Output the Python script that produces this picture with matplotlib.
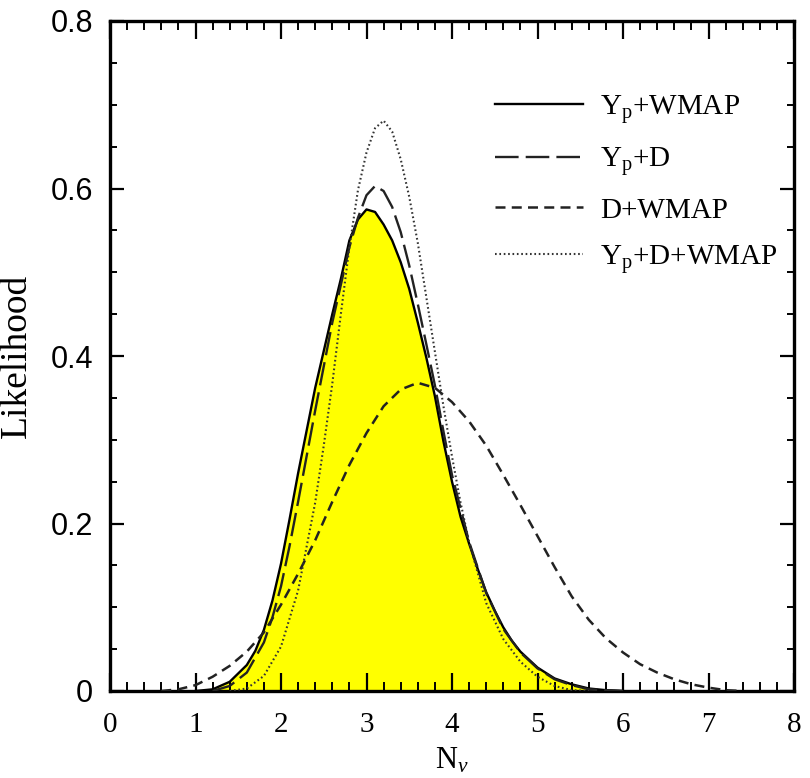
import matplotlib
matplotlib.use("Agg")
import matplotlib.pyplot as plt
from matplotlib.ticker import MultipleLocator

plt.rcParams['font.family'] = ['Liberation Serif', 'DejaVu Serif']
plt.rcParams['mathtext.fontset'] = 'custom'
plt.rcParams['mathtext.rm'] = 'Liberation Serif'
plt.rcParams['mathtext.it'] = 'Liberation Serif:italic'

# ---- data ----
x_yp_wmap = [1.0, 1.2, 1.4, 1.6, 1.7, 1.8, 1.9, 2.0, 2.1, 2.2, 2.4, 2.6, 2.7, 2.8, 2.9, 3.0,
             3.1, 3.2, 3.3, 3.4, 3.5, 3.6, 3.7, 3.8, 3.9, 4.0, 4.1, 4.2, 4.3, 4.4, 4.5,
             4.6, 4.7, 4.8, 5.0, 5.2, 5.4, 5.6, 5.8, 6.0]
y_yp_wmap = [0.0, 0.002, 0.011, 0.031, 0.048, 0.073, 0.108, 0.152, 0.205, 0.260, 0.362, 0.450,
             0.492, 0.538, 0.563, 0.575, 0.572, 0.557, 0.538, 0.512, 0.480, 0.440, 0.398,
             0.352, 0.298, 0.250, 0.208, 0.176, 0.146, 0.118, 0.096, 0.076, 0.060, 0.047,
             0.028, 0.015, 0.008, 0.003, 0.001, 0.0]

x_yp_d = [1.2, 1.4, 1.6, 1.8, 1.9, 2.0, 2.1, 2.2, 2.4, 2.6, 2.8, 2.9, 3.0, 3.1, 3.2, 3.3, 3.4,
          3.5, 3.6, 3.7, 3.8, 3.9, 4.0, 4.2, 4.4, 4.6, 4.8, 5.0, 5.2, 5.4, 5.6, 6.0]
y_yp_d = [0.0, 0.006, 0.022, 0.058, 0.088, 0.125, 0.173, 0.226, 0.335, 0.440, 0.530, 0.565,
          0.592, 0.603, 0.597, 0.578, 0.548, 0.508, 0.462, 0.414, 0.365, 0.310, 0.258,
          0.178, 0.117, 0.074, 0.046, 0.027, 0.014, 0.007, 0.002, 0.0]

x_d_wmap = [0.6, 0.8, 1.0, 1.2, 1.4, 1.6, 1.8, 2.0, 2.2, 2.4, 2.6, 2.8, 3.0, 3.2, 3.4, 3.6,
            3.8, 4.0, 4.2, 4.4, 4.6, 4.8, 5.0, 5.2, 5.4, 5.6, 5.8, 6.0, 6.2, 6.4, 6.6, 6.8,
            7.0, 7.2, 7.4]
y_d_wmap = [0.0, 0.002, 0.007, 0.017, 0.030, 0.047, 0.070, 0.103, 0.140, 0.180, 0.226, 0.270,
            0.308, 0.340, 0.360, 0.368, 0.362, 0.345, 0.322, 0.293, 0.258, 0.222, 0.185,
            0.148, 0.113, 0.085, 0.063, 0.046, 0.032, 0.022, 0.014, 0.008, 0.004, 0.001, 0.0]

x_all = [1.4, 1.6, 1.8, 2.0, 2.2, 2.4, 2.5, 2.6, 2.7, 2.8, 2.9, 3.0, 3.1, 3.2, 3.3, 3.4, 3.5,
         3.6, 3.7, 3.8, 3.9, 4.0, 4.1, 4.2, 4.4, 4.6, 4.8, 5.0, 5.2, 5.4, 5.6]
y_all = [0.0, 0.003, 0.018, 0.053, 0.120, 0.225, 0.293, 0.367, 0.450, 0.530, 0.598, 0.643,
         0.672, 0.681, 0.668, 0.635, 0.590, 0.535, 0.470, 0.405, 0.340, 0.280, 0.225, 0.178,
         0.105, 0.062, 0.035, 0.017, 0.006, 0.001, 0.0]

labels = ["Y$_{\\rm p}$+WMAP", "Y$_{\\rm p}$+D", "D+WMAP", "Y$_{\\rm p}$+D+WMAP"]
x_ticks = [0, 1, 2, 3, 4, 5, 6, 7, 8]
y_ticks = [0, 0.2, 0.4, 0.6, 0.8]
y_ticklabels = ["0", "0.2", "0.4", "0.6", "0.8"]

fig = plt.figure(figsize=(8.1, 7.78), dpi=100)
ax = fig.add_axes([110/810, 87/778, 684/810, 670/778])

ax.fill_between(x_yp_wmap, y_yp_wmap, 0, color='#ffff00', lw=0, zorder=1)
ax.plot(x_yp_wmap, y_yp_wmap, color='black', lw=1.7, label=labels[0], zorder=3)
ax.plot(x_yp_d, y_yp_d, color='#222222', lw=1.7, dashes=(10, 3), label=labels[1], zorder=3)
ax.plot(x_d_wmap, y_d_wmap, color='#222222', lw=1.8, dashes=(4, 2.5), label=labels[2], zorder=3)
ax.plot(x_all, y_all, color='#333333', lw=1.5, dashes=(0.8, 1.3), label=labels[3], zorder=3)

ax.set_xlim(0, 8)
ax.set_ylim(0, 0.8)
ax.set_xticks(x_ticks)
ax.set_xticklabels([str(v) for v in x_ticks], fontsize=21)
ax.set_yticks(y_ticks)
ax.set_yticklabels(y_ticklabels, fontsize=22, family='Liberation Sans')
ax.xaxis.set_minor_locator(MultipleLocator(0.2))
ax.yaxis.set_minor_locator(MultipleLocator(0.05))

for s in ax.spines.values():
    s.set_linewidth(2.4)
ax.tick_params(axis='x', which='major', direction='in', top=True, bottom=True,
               length=13, width=1.6, pad=15)
ax.tick_params(axis='x', which='minor', direction='in', top=True, bottom=True,
               length=6.5, width=1.4)
ax.tick_params(axis='y', which='major', direction='in', left=True, right=True,
               length=10, width=1.6, pad=12)
ax.tick_params(axis='y', which='minor', direction='in', left=True, right=True,
               length=5, width=1.4)

ax.set_xlabel("N$_{\\nu}$", fontsize=22, labelpad=6)
ax.set_ylabel("Likelihood", fontsize=27, labelpad=12)

leg = ax.legend(loc='upper left', bbox_to_anchor=(0.563, 0.893), frameon=False,
                fontsize=21, handlelength=3.0, handletextpad=0.6, labelspacing=0.66,
                borderpad=0, borderaxespad=0)

fig.savefig("out.png", dpi=100)
